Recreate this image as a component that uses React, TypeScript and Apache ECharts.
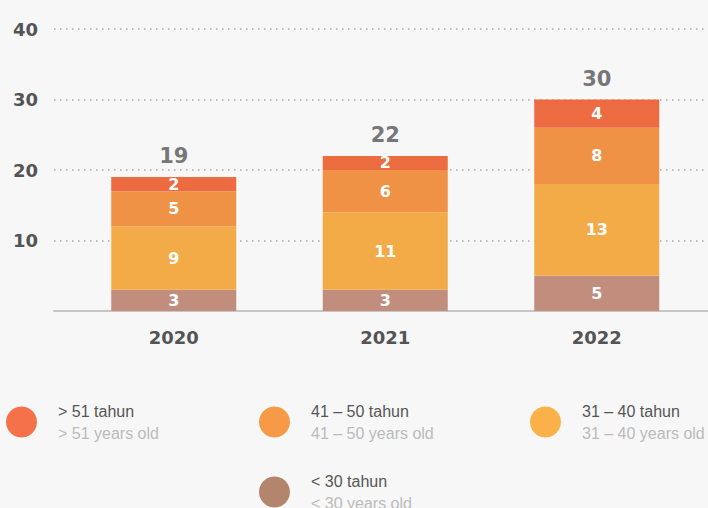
import React, { useEffect, useRef } from "react";
import * as echarts from "echarts";

const years = ["2020", "2021", "2022"];
const under30 = [3, 3, 5];
const age31to40 = [9, 11, 13];
const age41to50 = [5, 6, 8];
const over51 = [2, 2, 4];
const totals = [19, 22, 30];
const yTicks = [10, 20, 30, 40];

const seriesNames = ["< 30 tahun", "31 – 40 tahun", "41 – 50 tahun", "> 51 tahun"];
const englishNames: Record<string, string> = {
  "> 51 tahun": "> 51 years old",
  "41 – 50 tahun": "41 – 50 years old",
  "31 – 40 tahun": "31 – 40 years old",
  "< 30 tahun": "< 30 years old",
};
const barColors = ["#C18E7E", "#F3AB47", "#EF9246", "#EC6B41"];
const legendColors = ["#B3856C", "#FBB149", "#F79A48", "#F4714A"];

export default function App() {
  const ref = useRef<HTMLDivElement>(null);
  useEffect(() => {
    if (!ref.current) return;
    const chart = echarts.init(ref.current, null, { renderer: "svg" });
    const values = [under30, age31to40, age41to50, over51];
    const font = "'Liberation Sans', Arial, sans-serif";
    const numFont = "'DejaVu Sans', 'Liberation Sans', sans-serif";
    const dark = "#545456";

    const legendBase = (idx: number, left: number, top: number) => ({
      left,
      top,
      padding: 0,
      orient: "horizontal",
      icon: "circle",
      itemWidth: 31,
      itemHeight: 31,
      selectedMode: false,
      data: [{ name: seriesNames[idx], itemStyle: { color: legendColors[idx] } }],
      formatter: (name: string) => `{a|${name}}\n{b|${englishNames[name]}}`,
      textStyle: {
        fontFamily: font,
        rich: {
          a: { fontSize: 16, color: "#555555", lineHeight: 22, padding: [0, 0, 0, 16], fontFamily: font },
          b: { fontSize: 16, color: "#BBBBBB", lineHeight: 22, padding: [0, 0, 0, 16], fontFamily: font },
        },
      },
    });

    const barSeries = values.map((arr, i) => ({
      name: seriesNames[i],
      type: "bar",
      stack: "total",
      barWidth: 125,
      xAxisIndex: 1,
      yAxisIndex: 1,
      data: arr,
      itemStyle: { color: barColors[i] },
      label: {
        show: true,
        position: "inside",
        color: "#FFFFFF",
        fontSize: 16,
        fontWeight: "bold",
        fontFamily: numFont,
      },
    }));

    chart.setOption({
      animation: false,
      backgroundColor: "#F7F7F7",
      textStyle: { fontFamily: font },
      grid: [
        { left: 54, right: 0, top: 29, bottom: 197, containLabel: false },
        { left: 68, right: 5.5, top: 29, bottom: 197, containLabel: false },
      ],
      legend: [
        legendBase(3, 6, 403),
        legendBase(2, 259, 403),
        legendBase(1, 530, 403),
        legendBase(0, 259, 473),
      ],
      xAxis: [
        {
          type: "value",
          gridIndex: 0,
          min: 0,
          max: 1,
          splitLine: { show: false },
          axisTick: { show: false },
          axisLabel: { show: false },
          axisLine: { show: true, lineStyle: { color: "#C6C6C6", width: 2 } },
        },
        {
          type: "category",
          gridIndex: 1,
          data: years,
          axisLine: { show: false },
          axisTick: { show: false },
          splitLine: { show: false },
          axisLabel: {
            margin: 17,
            fontSize: 18,
            fontWeight: "bold",
            color: dark,
            fontFamily: numFont,
          },
        },
      ],
      yAxis: [
        {
          type: "value",
          gridIndex: 0,
          min: 0,
          max: 40,
          interval: 10,
          axisLine: { show: false },
          axisTick: { show: false },
          splitLine: {
            show: true,
            lineStyle: { color: "#A8A8A8", width: 1.5, type: [1.5, 4.5] },
          },
          axisLabel: {
            margin: 16,
            fontSize: 18,
            fontWeight: "bold",
            color: dark,
            fontFamily: numFont,
            formatter: (v: number) => (yTicks.includes(v) ? String(v) : ""),
          },
        },
        {
          type: "value",
          gridIndex: 1,
          min: 0,
          max: 40,
          interval: 10,
          show: false,
          splitLine: { show: false },
        },
      ],
      series: [
        ...barSeries,
        {
          name: "total",
          type: "scatter",
          xAxisIndex: 1,
          yAxisIndex: 1,
          symbolSize: 1,
          itemStyle: { color: "rgba(0,0,0,0)" },
          data: totals,
          label: {
            show: true,
            position: "top",
            distance: 10,
            color: dark,
            fontSize: 21,
            fontWeight: "bold",
            fontFamily: numFont,
            formatter: (p: any) => String(totals[p.dataIndex]),
          },
          z: 5,
        },
      ],
    });
    return () => chart.dispose();
  }, []);
  return (
    <div
      ref={ref}
      style={{ position: "absolute", left: 0, top: 0, width: 708, height: 508 }}
    />
  );
}
